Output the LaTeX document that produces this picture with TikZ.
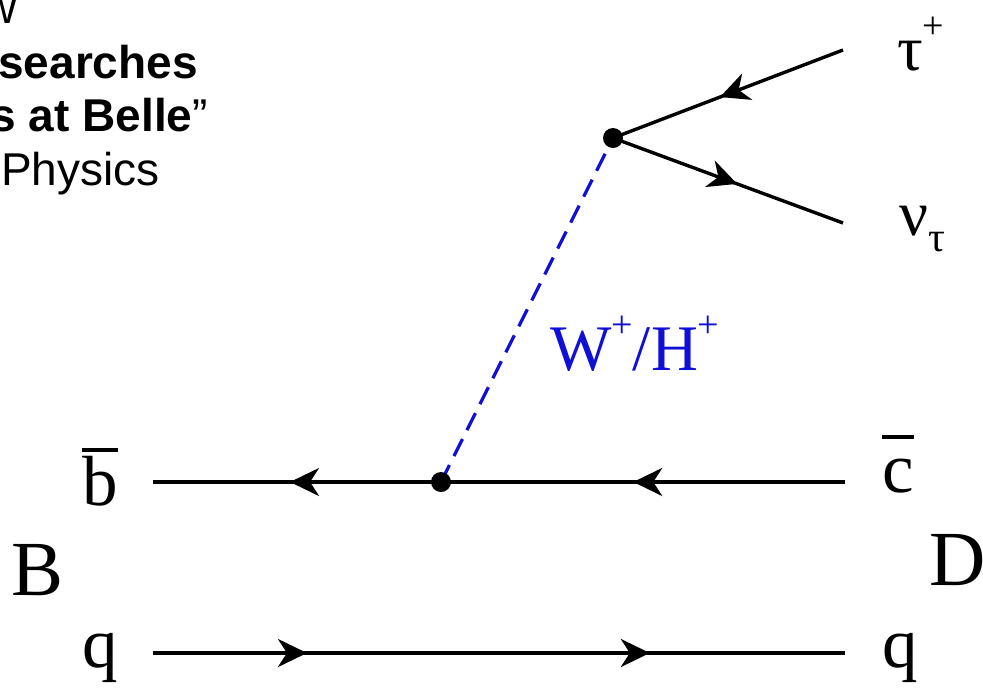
\documentclass[tikz,border=0pt]{standalone}
\usepackage{fontspec}
\setmainfont{Liberation Serif}
\newfontfamily\slidefont{Liberation Sans}
\usetikzlibrary{arrows.meta,decorations.markings}
\definecolor{bosonblue}{RGB}{15,15,215}
\newcommand{\upsc}[1]{\raisebox{0.5em}{\fontsize{38}{38}\selectfont #1}}
\newcommand{\dnsc}[1]{\raisebox{-0.26em}{\fontsize{42}{42}\selectfont #1}}
\newcommand{\barred}[1]{\vbox{\hrule height 4pt\kern 3.5pt\hbox{\vphantom{b}#1}}}

\begin{document}
\begin{tikzpicture}[x=1pt, y=-1pt,
      fline/.style={line width=3.4pt},
      tip at/.style={postaction={decorate, decoration={markings,
          mark=at position #1 with {\arrow{Stealth[length=29pt,width=28pt,inset=9pt]}}}}},
      boson/.style={bosonblue, line width=3.2pt, dash pattern=on 19pt off 10pt},
      dot/.style={circle, fill, inner sep=0pt, minimum size=20pt},
      lbl/.style={inner sep=0pt, anchor=base west, font=\fontsize{71}{71}\selectfont},
      greek/.style={lbl, font=\fontsize{64}{64}\selectfont},
      meson/.style={lbl, font=\fontsize{78}{78}\selectfont},
      slide/.style={inner sep=0pt, anchor=base east, font=\slidefont\fontsize{46}{46}\selectfont}]
    \useasboundingbox (0,0) rectangle (983,691);

    % leftover slide text
    \node[slide] (ln1) at (17,23) {w};
    \node[slide] (ln2) at (198,78) {\bfseries searches};
    \node[slide] (ln3) at (208,131) {\textbf{s at Belle}”};
    \node[slide] (ln4) at (160,185) {Physics};

    % end points and vertices
    \coordinate (vt) at (613,138);
    \coordinate (vb) at (441,482);
    \coordinate (tauend) at (843,50);
    \coordinate (nuend) at (843,223);
    \coordinate (cbarend) at (845,482);
    \coordinate (bbarend) at (153,482);
    \coordinate (qleft) at (153,653);
    \coordinate (qright) at (845,653);

    \draw[fline, tip at=0.535] (tauend) -- (vt);
    \draw[fline, tip at=0.54] (vt) -- (nuend);
    \draw[fline, tip at=0.306, tip at=0.802] (cbarend) -- (bbarend);
    \draw[fline, tip at=0.2225, tip at=0.718] (qleft) -- (qright);
    \draw[boson] (vb) -- (vt);
    \node[dot] (vtop) at (vt) {};
    \node[dot] (vbot) at (vb) {};

    % labels
    \node[greek] (taulbl) at (897,70) {τ\upsc{+}};
    \node[greek] (nulbl) at (899,235) {ν\dnsc{τ}};
    \node[lbl, text=bosonblue, font=\fontsize{65}{65}\selectfont] (wlbl) at (550,370) {W\upsc{+}/H\upsc{+}};
    \node[lbl] (bbar) at (82,505) {\barred{b}};
    \node[lbl] (cbar) at (882,492) {\barred{c}};
    \node[lbl] (qa) at (82,667) {q};
    \node[lbl] (qb) at (882,667) {q};
    \node[meson] (blbl) at (11,595) {B};
    \node[meson] (dlbl) at (929,585) {D};
  \end{tikzpicture}
\end{document}
